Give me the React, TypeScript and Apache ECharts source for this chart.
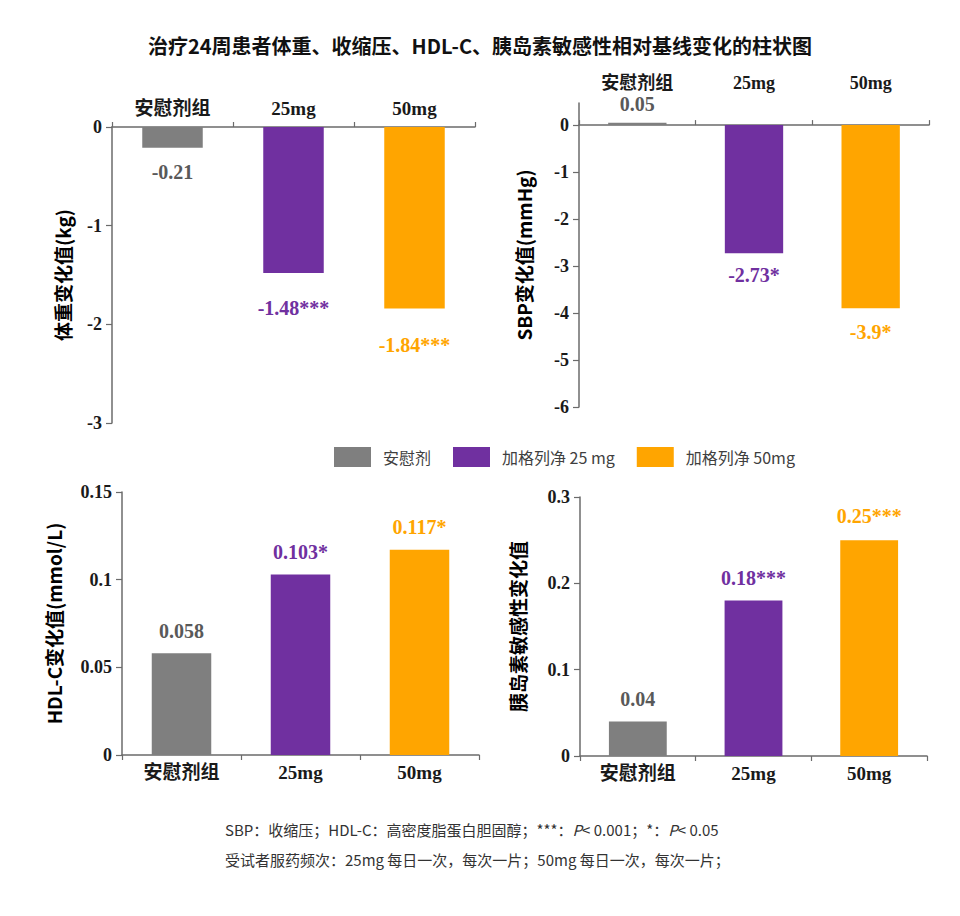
import React, { useEffect, useRef } from 'react';
import * as echarts from 'echarts';

const categories = ['安慰剂组', '25mg', '50mg'];
const legendNames = ['安慰剂', '加格列净 25 mg', '加格列净 50mg'];
const barColors = ['#7F7F7F', '#7030A0', '#FFA500'];
const labelColors = ['#595959', '#7030A0', '#FFA500'];

const weightValues = [-0.21, -1.48, -1.84];
const weightMarks = ['', '***', '***'];
const sbpValues = [0.05, -2.73, -3.9];
const sbpMarks = ['', '*', '*'];
const hdlValues = [0.058, 0.103, 0.117];
const hdlMarks = ['', '*', '*'];
const insulinValues = [0.04, 0.18, 0.25];
const insulinMarks = ['', '***', '***'];

const sbpTicks = [0, -1, -2, -3, -4, -5, -6];

const titleText = '治疗24周患者体重、收缩压、HDL-C、胰岛素敏感性相对基线变化的柱状图';
const yNames = ['体重变化值(kg)', 'SBP变化值(mmHg)', 'HDL-C变化值(mmol/L)', '胰岛素敏感性变化值'];

const SERIF = '"Liberation Serif", "Times New Roman", "Noto Sans CJK SC", serif';
const SANS = '"Noto Sans CJK SC", "Noto Sans", sans-serif';
const AXIS_COLOR = '#6b6b6b';

function makeData(values: number[], marks: string[], distances: number[]) {
  return values.map((v, i) => ({
    value: v,
    itemStyle: { color: barColors[i] },
    label: {
      show: true,
      position: v < 0 ? 'bottom' : 'top',
      distance: distances[i],
      formatter: () => String(v) + marks[i],
      color: labelColors[i],
      fontSize: 20,
      fontWeight: 'bold',
      fontFamily: SERIF,
    },
  }));
}

function xAxisCfg(gridIndex: number, top: boolean, margin: number, fontSize: number) {
  return {
    type: 'category',
    gridIndex,
    data: categories,
    position: top ? 'top' : 'bottom',
    axisLine: { onZero: true, lineStyle: { color: AXIS_COLOR, width: 1.5 } },
    axisTick: { show: true, length: 5, lineStyle: { color: AXIS_COLOR, width: 1.2 } },
    axisLabel: {
      margin,
      fontSize,
      fontWeight: 'bold',
      color: '#1a1a1a',
      fontFamily: SERIF,
    },
    splitLine: { show: false },
  };
}

function yAxisCfg(gridIndex: number, name: string, nameGap: number, extra: any) {
  return {
    type: 'value',
    gridIndex,
    name,
    nameLocation: 'middle',
    nameRotate: 90,
    nameGap,
    nameTextStyle: { fontSize: 19, fontWeight: 'bold', color: '#000', fontFamily: SANS },
    axisLine: { show: true, lineStyle: { color: AXIS_COLOR, width: 1.5 } },
    axisTick: { show: true, length: 6, lineStyle: { color: AXIS_COLOR, width: 1.2 } },
    axisLabel: { margin: 10, fontSize: 18, fontWeight: 'bold', color: '#1a1a1a', fontFamily: SERIF },
    splitLine: { show: false },
    ...extra,
  };
}

export default function App() {
  const ref = useRef<HTMLDivElement>(null);
  useEffect(() => {
    if (!ref.current) return;
    const chart = echarts.init(ref.current, null, { renderer: 'svg' });
    const option: any = {
      animation: false,
      backgroundColor: '#ffffff',
      title: {
        text: titleText,
        left: 'center',
        top: 30,
        textStyle: { fontSize: 20, fontWeight: 'bold', color: '#111', fontFamily: SANS },
      },
      legend: {
        left: 329,
        top: 442,
        itemWidth: 37,
        itemHeight: 20,
        itemGap: 22,
        icon: 'rect',
        data: legendNames,
        selectedMode: false,
        textStyle: { fontSize: 16, color: '#404040', fontFamily: SANS, padding: [0, 0, 0, 7] },
      },
      grid: [
        { left: 112, top: 127, width: 363, height: 296 },
        { left: 579, top: 103, width: 350, height: 304 },
        { left: 122, top: 492, width: 357, height: 263 },
        { left: 580, top: 497, width: 347, height: 259 },
        { left: 0, top: 0, width: 1, height: 1, show: false },
      ],
      xAxis: [
        xAxisCfg(0, true, 9, 19),
        xAxisCfg(1, true, 11, 18),
        xAxisCfg(2, false, 8, 19),
        xAxisCfg(3, false, 8, 19),
        { type: 'category', gridIndex: 4, show: false, data: categories },
      ],
      yAxis: [
        yAxisCfg(0, yNames[0], 40, { min: -3, max: 0, interval: 1 }),
        yAxisCfg(1, yNames[1], 46, {
          min: -6,
          max: 0.47,
          interval: 1,
          axisTick: {
            show: true,
            length: 6,
            customValues: sbpTicks,
            lineStyle: { color: AXIS_COLOR, width: 1.2 },
          },
          axisLabel: {
            margin: 10,
            fontSize: 18,
            fontWeight: 'bold',
            color: '#1a1a1a',
            fontFamily: SERIF,
            customValues: sbpTicks,
            formatter: (v: number) => (Number.isInteger(v) ? String(v) : ''),
          },
        }),
        yAxisCfg(2, yNames[2], 59, { min: 0, max: 0.15, interval: 0.05 }),
        yAxisCfg(3, yNames[3], 53, { min: 0, max: 0.3, interval: 0.1 }),
        { type: 'value', gridIndex: 4, show: false },
      ],
      series: [
        {
          type: 'bar',
          name: '体重',
          xAxisIndex: 0,
          yAxisIndex: 0,
          barWidth: '50%',
          data: makeData(weightValues, weightMarks, [14, 25, 26]),
        },
        {
          type: 'bar',
          name: 'SBP',
          xAxisIndex: 1,
          yAxisIndex: 1,
          barWidth: '50%',
          data: makeData(sbpValues, sbpMarks, [9, 12, 14]),
        },
        {
          type: 'bar',
          name: 'HDL-C',
          xAxisIndex: 2,
          yAxisIndex: 2,
          barWidth: '50%',
          data: makeData(hdlValues, hdlMarks, [12, 12, 13]),
        },
        {
          type: 'bar',
          name: '胰岛素敏感性',
          xAxisIndex: 3,
          yAxisIndex: 3,
          barWidth: '50%',
          data: makeData(insulinValues, insulinMarks, [12, 13, 14]),
        },
        ...legendNames.map((n, i) => ({
          type: 'bar',
          name: n,
          xAxisIndex: 4,
          yAxisIndex: 4,
          data: [],
          itemStyle: { color: barColors[i] },
        })),
      ],
      graphic: [
        {
          type: 'text',
          left: 225,
          top: 822,
          style: {
            text: '{a|SBP：收缩压；HDL-C：高密度脂蛋白胆固醇；***：}{i|P}{a|< 0.001；*：}{i|P}{a|< 0.05}',
            rich: {
              a: { fontSize: 15, fill: '#333', fontFamily: SANS },
              i: { fontSize: 15, fill: '#333', fontFamily: SANS, fontStyle: 'italic' },
            },
            fontSize: 15,
            fill: '#333',
            fontFamily: SANS,
          },
        },
        {
          type: 'text',
          left: 225,
          top: 852,
          style: {
            text: '受试者服药频次：25mg 每日一次，每次一片；50mg 每日一次，每次一片；',
            fontSize: 15,
            fill: '#333',
            fontFamily: SANS,
          },
        },
      ],
    };
    chart.setOption(option);
    return () => chart.dispose();
  }, []);
  return <div ref={ref} style={{ position: 'fixed', left: 0, top: 0, width: 960, height: 916 }} />;
}
